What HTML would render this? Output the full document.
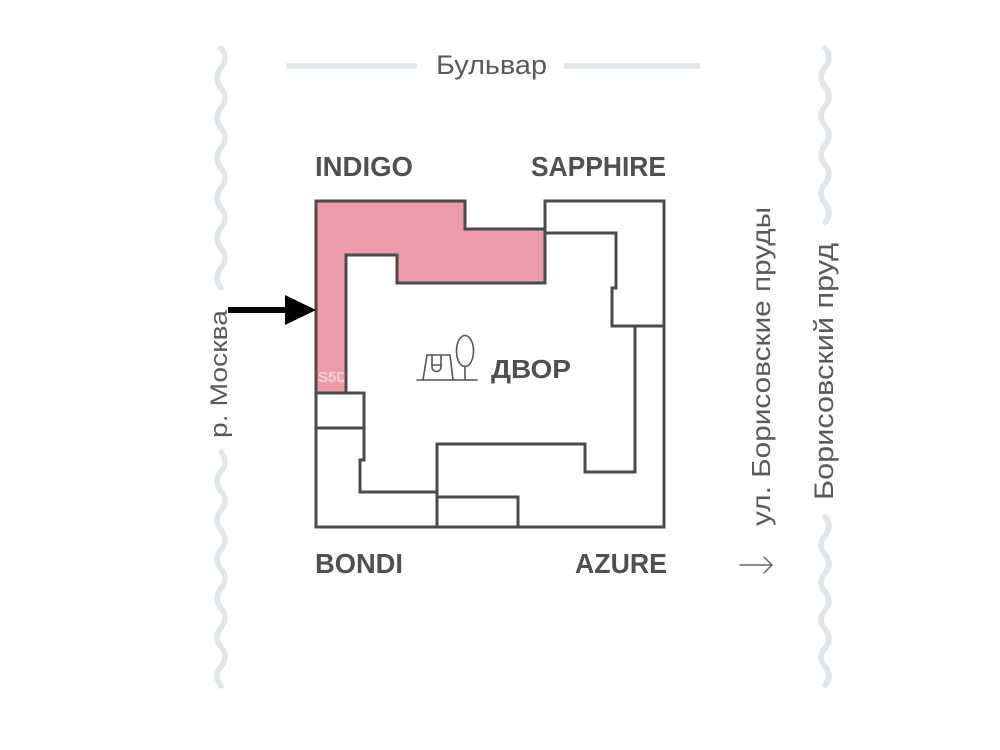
<!DOCTYPE html>
<html>
<head>
<meta charset="utf-8">
<style>
html,body{margin:0;padding:0;background:#fff;}
svg{display:block;}
</style>
</head>
<body>
<svg width="1000" height="750" viewBox="0 0 1000 750" xmlns="http://www.w3.org/2000/svg">
  <rect width="1000" height="750" fill="#ffffff"/>

  <!-- wavy river / pond lines -->
  <g fill="none" stroke="#e2e6e9" stroke-width="5.5" stroke-linecap="round">
    <path d="M221,48 q8,10 0,20 t0,20 t0,20 t0,20 t0,20 t0,20 t0,20 t0,20 t0,20 t0,20 t0,20 t0,20"/>
    <path d="M221,452 q8,9.75 0,19.5 t0,19.5 t0,19.5 t0,19.5 t0,19.5 t0,19.5 t0,19.5 t0,19.5 t0,19.5 t0,19.5 t0,19.5 t0,19.5"/>
    <path d="M825,48 q8,9.7 0,19.4 t0,19.4 t0,19.4 t0,19.4 t0,19.4 t0,19.4 t0,19.4 t0,19.4 t0,19.4"/>
    <path d="M825,517 q8,9.35 0,18.7 t0,18.7 t0,18.7 t0,18.7 t0,18.7 t0,18.7 t0,18.7 t0,18.7 t0,18.7"/>
    <line x1="286" y1="66" x2="417" y2="66" stroke-linecap="butt"/>
    <line x1="564" y1="66" x2="700" y2="66" stroke-linecap="butt"/>
  </g>

  <!-- Бульвар -->
  <text x="436" y="74" font-family="Liberation Sans, DejaVu Sans, sans-serif" font-size="27" fill="#5a5a5a" textLength="111" lengthAdjust="spacingAndGlyphs">Бульвар</text>

  <!-- pink INDIGO fill -->
  <polygon points="316,201 465,201 465,229 545,229 545,283 397,283 397,255 346,255 346,393 316,393" fill="#ee9aa8"/>
  <text x="318" y="382" font-family="Liberation Sans, sans-serif" font-size="15" font-weight="bold" fill="#ffffff" fill-opacity="0.5">S5D</text>

  <!-- building outlines -->
  <g fill="none" stroke="#4a4a4a" stroke-width="3" stroke-linejoin="miter" stroke-linecap="square">
    <polyline points="316,393 316,201 465,201 465,229 545,229"/>
    <polyline points="346,393 346,255 397,255 397,283 545,283"/>
    <polyline points="545,283 545,201 664,201 664,527"/>
    <polyline points="545,233 616,233 616,288 612,288 612,326 664,326"/>
    <polyline points="635,326 635,472 585,472 585,444 437,444 437,527"/>
    <polyline points="437,497 518,497 518,527"/>
    <line x1="316" y1="527" x2="664" y2="527"/>
    <polyline points="316,393 316,527"/>
    <polyline points="316,393 364,393 364,460 360,460 360,492 437,492"/>
    <line x1="316" y1="428" x2="364" y2="428"/>
  </g>

  <!-- courtyard icon -->
  <g fill="none" stroke="#555" stroke-width="1.6" stroke-linecap="round">
    <line x1="417" y1="380" x2="477" y2="380"/>
    <polyline points="423,380 427,355 450,355 453,380"/>
    <path d="M432,355 V367 a4.5,4.5 0 0 0 9,0 V355"/>
    <line x1="432" y1="365" x2="441" y2="365"/>
    <ellipse cx="465" cy="351" rx="8.5" ry="15.5"/>
    <line x1="465" y1="366.5" x2="465" y2="380"/>
  </g>
  <text x="491" y="378" font-family="Liberation Sans, DejaVu Sans, sans-serif" font-size="26" font-weight="bold" fill="#505050" textLength="80" lengthAdjust="spacingAndGlyphs">ДВОР</text>

  <!-- building labels -->
  <g font-family="Liberation Sans, sans-serif" font-size="28" font-weight="bold" fill="#505050">
    <text x="315" y="176" textLength="98" lengthAdjust="spacingAndGlyphs">INDIGO</text>
    <text x="531" y="176" textLength="135" lengthAdjust="spacingAndGlyphs">SAPPHIRE</text>
    <text x="315" y="573" textLength="88" lengthAdjust="spacingAndGlyphs">BONDI</text>
    <text x="575" y="573" textLength="92" lengthAdjust="spacingAndGlyphs">AZURE</text>
  </g>

  <!-- entrance arrow -->
  <rect x="228" y="307" width="60" height="6" fill="#000"/>
  <polygon points="285,295 316,310 285,325" fill="#000"/>

  <!-- vertical labels -->
  <g font-family="Liberation Sans, DejaVu Sans, sans-serif" fill="#5a5a5a">
    <text transform="translate(227,438) rotate(-90)" font-size="24" textLength="128" lengthAdjust="spacingAndGlyphs">р. Москва</text>
    <text transform="translate(770,526) rotate(-90)" font-size="26" textLength="319" lengthAdjust="spacingAndGlyphs">ул. Борисовские пруды</text>
    <text transform="translate(833,500) rotate(-90)" font-size="27" textLength="257" lengthAdjust="spacingAndGlyphs">Борисовский пруд</text>
  </g>

  <!-- small right arrow -->
  <g fill="none" stroke="#666" stroke-width="1.5" stroke-linecap="round">
    <line x1="740" y1="565" x2="772" y2="565"/>
    <polyline points="764,557 772,565 764,573"/>
  </g>
</svg>
</body>
</html>
